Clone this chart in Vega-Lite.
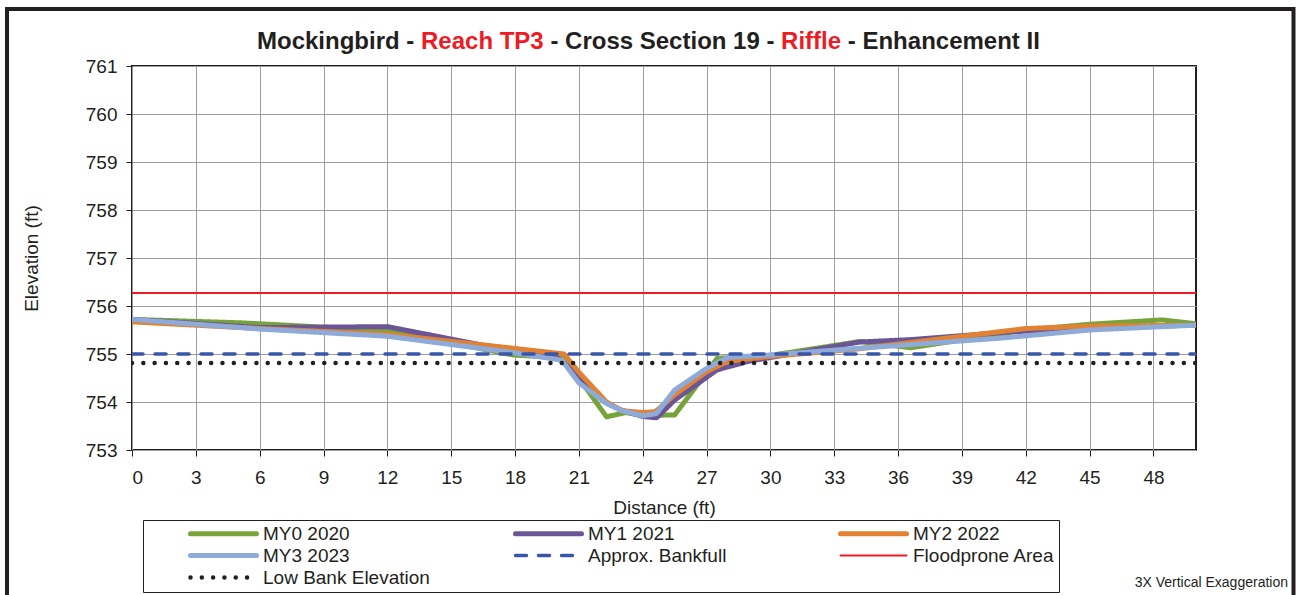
{
  "$schema": "https://vega.github.io/schema/vega-lite/v6.json",
  "autosize": "none",
  "width": 1064,
  "height": 384,
  "padding": {"left": 132, "top": 66, "right": 101, "bottom": 145},
  "background": "white",
  "config": {
    "font": "Liberation Sans",
    "view": {"stroke": "#231f20", "strokeWidth": 2},
    "legend": {
      "titleOrient": "left", "titlePadding": 41, "titleFontSize": 19,
      "orient": "none", "legendX": 11, "legendY": 454, "direction": "horizontal",
      "columns": 3, "gridAlign": "all", "columnPadding": 83, "rowPadding": 2,
      "clipHeight": 19, "symbolSize": 4356, "symbolType": "stroke",
      "labelFontSize": 19, "labelOffset": 4, "labelColor": "#231f20", "labelLimit": 300,
      "padding": 4, "strokeColor": "#231f20"
    }
  },
  "datasets": {
    "xs": [
      {"series": "MY0 2020", "dist": 0, "elev": 755.72},
      {"series": "MY0 2020", "dist": 5.1, "elev": 755.65},
      {"series": "MY0 2020", "dist": 12, "elev": 755.49},
      {"series": "MY0 2020", "dist": 17.9, "elev": 754.98},
      {"series": "MY0 2020", "dist": 20.2, "elev": 754.92},
      {"series": "MY0 2020", "dist": 21, "elev": 754.5},
      {"series": "MY0 2020", "dist": 22.3, "elev": 753.69},
      {"series": "MY0 2020", "dist": 23.2, "elev": 753.78},
      {"series": "MY0 2020", "dist": 24, "elev": 753.72},
      {"series": "MY0 2020", "dist": 25.5, "elev": 753.73},
      {"series": "MY0 2020", "dist": 27.5, "elev": 754.91},
      {"series": "MY0 2020", "dist": 30, "elev": 754.97},
      {"series": "MY0 2020", "dist": 34.2, "elev": 755.26},
      {"series": "MY0 2020", "dist": 36.6, "elev": 755.13},
      {"series": "MY0 2020", "dist": 42, "elev": 755.5},
      {"series": "MY0 2020", "dist": 45, "elev": 755.62},
      {"series": "MY0 2020", "dist": 48.4, "elev": 755.71},
      {"series": "MY0 2020", "dist": 50, "elev": 755.63},
      {"series": "MY1 2021", "dist": 0, "elev": 755.72},
      {"series": "MY1 2021", "dist": 6, "elev": 755.55},
      {"series": "MY1 2021", "dist": 12, "elev": 755.57},
      {"series": "MY1 2021", "dist": 18, "elev": 755.05},
      {"series": "MY1 2021", "dist": 20, "elev": 754.92},
      {"series": "MY1 2021", "dist": 20.5, "elev": 754.74},
      {"series": "MY1 2021", "dist": 21.2, "elev": 754.4},
      {"series": "MY1 2021", "dist": 22.2, "elev": 754.0},
      {"series": "MY1 2021", "dist": 23, "elev": 753.83},
      {"series": "MY1 2021", "dist": 24, "elev": 753.7},
      {"series": "MY1 2021", "dist": 24.65, "elev": 753.67},
      {"series": "MY1 2021", "dist": 25.5, "elev": 754.04},
      {"series": "MY1 2021", "dist": 27.5, "elev": 754.67},
      {"series": "MY1 2021", "dist": 29, "elev": 754.85},
      {"series": "MY1 2021", "dist": 34.2, "elev": 755.25},
      {"series": "MY1 2021", "dist": 36.6, "elev": 755.3},
      {"series": "MY1 2021", "dist": 41, "elev": 755.45},
      {"series": "MY1 2021", "dist": 45, "elev": 755.55},
      {"series": "MY1 2021", "dist": 50, "elev": 755.6},
      {"series": "MY2 2022", "dist": 0, "elev": 755.67},
      {"series": "MY2 2022", "dist": 6, "elev": 755.53},
      {"series": "MY2 2022", "dist": 12, "elev": 755.41},
      {"series": "MY2 2022", "dist": 17.9, "elev": 755.12},
      {"series": "MY2 2022", "dist": 20.3, "elev": 755.0},
      {"series": "MY2 2022", "dist": 21, "elev": 754.62},
      {"series": "MY2 2022", "dist": 22.3, "elev": 754.0},
      {"series": "MY2 2022", "dist": 23, "elev": 753.82},
      {"series": "MY2 2022", "dist": 24, "elev": 753.78},
      {"series": "MY2 2022", "dist": 24.6, "elev": 753.8},
      {"series": "MY2 2022", "dist": 25.5, "elev": 754.15},
      {"series": "MY2 2022", "dist": 27, "elev": 754.63},
      {"series": "MY2 2022", "dist": 28, "elev": 754.85},
      {"series": "MY2 2022", "dist": 30, "elev": 754.95},
      {"series": "MY2 2022", "dist": 34, "elev": 755.1},
      {"series": "MY2 2022", "dist": 42, "elev": 755.53},
      {"series": "MY2 2022", "dist": 45, "elev": 755.58},
      {"series": "MY2 2022", "dist": 50, "elev": 755.6},
      {"series": "MY3 2023", "dist": 0, "elev": 755.72},
      {"series": "MY3 2023", "dist": 6, "elev": 755.52},
      {"series": "MY3 2023", "dist": 12, "elev": 755.37},
      {"series": "MY3 2023", "dist": 17.9, "elev": 755.03},
      {"series": "MY3 2023", "dist": 20.2, "elev": 754.87},
      {"series": "MY3 2023", "dist": 21, "elev": 754.4},
      {"series": "MY3 2023", "dist": 22.3, "elev": 753.97},
      {"series": "MY3 2023", "dist": 23, "elev": 753.82},
      {"series": "MY3 2023", "dist": 24, "elev": 753.71},
      {"series": "MY3 2023", "dist": 24.65, "elev": 753.76},
      {"series": "MY3 2023", "dist": 25.5, "elev": 754.25},
      {"series": "MY3 2023", "dist": 27, "elev": 754.7},
      {"series": "MY3 2023", "dist": 28, "elev": 754.93},
      {"series": "MY3 2023", "dist": 30, "elev": 754.98},
      {"series": "MY3 2023", "dist": 34.2, "elev": 755.12},
      {"series": "MY3 2023", "dist": 40.8, "elev": 755.33},
      {"series": "MY3 2023", "dist": 45, "elev": 755.5},
      {"series": "MY3 2023", "dist": 48.4, "elev": 755.57},
      {"series": "MY3 2023", "dist": 50, "elev": 755.6},
      {"series": "Approx. Bankfull", "dist": 0, "elev": 755.0},
      {"series": "Approx. Bankfull", "dist": 50, "elev": 755.0},
      {"series": "Floodprone Area", "dist": 0, "elev": 756.27},
      {"series": "Floodprone Area", "dist": 50, "elev": 756.27},
      {"series": "Low Bank Elevation", "dist": 0, "elev": 754.81},
      {"series": "Low Bank Elevation", "dist": 50, "elev": 754.81}
    ]
  },
  "layer": [
    {
      "data": {"values": [{"frame": "outer"}]},
      "mark": {"type": "rect", "filled": false, "fill": null, "stroke": "#231f20", "strokeWidth": 4},
      "encoding": {
        "x": {"datum": -5.874, "type": "quantitative", "scale": {"domain": [0, 50], "nice": false, "zero": false}},
        "x2": {"datum": 54.582},
        "y": {"datum": 762.1875, "type": "quantitative", "scale": {"domain": [753, 761], "nice": false, "zero": false}},
        "y2": {"datum": 749.875}
      }
    },
    {
      "data": {"name": "xs"},
      "encoding": {
        "x": {
          "field": "dist", "type": "quantitative",
          "scale": {"domain": [0, 50], "nice": false, "zero": false},
          "axis": {
            "title": "Distance (ft)",
            "values": [0, 3, 6, 9, 12, 15, 18, 21, 24, 27, 30, 33, 36, 39, 42, 45, 48],
            "grid": true, "gridColor": "#9d9d9d", "gridWidth": 1,
            "domain": false, "ticks": true, "tickColor": "#231f20", "tickSize": 6,
            "labelFontSize": 19, "labelColor": "#231f20", "labelPadding": 12,
            "titleFontSize": 19, "titleFontWeight": "normal", "titleColor": "#231f20", "titlePadding": 11
          }
        },
        "y": {
          "field": "elev", "type": "quantitative",
          "scale": {"domain": [753, 761], "nice": false, "zero": false},
          "axis": {
            "title": "Elevation (ft)",
            "values": [753, 754, 755, 756, 757, 758, 759, 760, 761],
            "format": "d",
            "grid": true, "gridColor": "#9d9d9d", "gridWidth": 1,
            "domain": false, "ticks": true, "tickColor": "#231f20", "tickSize": 6,
            "labelFontSize": 19, "labelColor": "#231f20", "labelPadding": 9,
            "titleFontSize": 19, "titleFontWeight": "normal", "titleColor": "#231f20", "titlePadding": 44
          }
        },
        "color": {
          "field": "series", "type": "nominal",
          "scale": {
            "domain": ["MY0 2020", "MY1 2021", "MY2 2022", "MY3 2023", "Approx. Bankfull", "Floodprone Area", "Low Bank Elevation"],
            "range": ["#77a33b", "#6c5596", "#e08232", "#8eaad8", "#3a57a7", "#ed1c24", "#231f20"]
          },
          "legend": {
            "title": " ",
            "encode": {"symbols": {"update": {"strokeCap": {"value": "round"}}}}
          }
        },
        "strokeDash": {
          "field": "series", "type": "nominal",
          "scale": {
            "domain": ["MY0 2020", "MY1 2021", "MY2 2022", "MY3 2023", "Approx. Bankfull", "Floodprone Area", "Low Bank Elevation"],
            "range": [[1, 0], [1, 0], [1, 0], [1, 0], [11, 12], [1, 0], [0.01, 11.3]]
          },
          "legend": {"title": " "}
        },
        "strokeWidth": {
          "field": "series", "type": "nominal",
          "scale": {
            "type": "ordinal",
            "domain": ["MY0 2020", "MY1 2021", "MY2 2022", "MY3 2023", "Approx. Bankfull", "Floodprone Area", "Low Bank Elevation"],
            "range": [5, 5, 5, 5, 3.5, 2, 4.5]
          },
          "legend": {"title": " "}
        }
      },
      "layer": [
        {
          "transform": [{"filter": "indexof(['MY0 2020', 'MY1 2021', 'MY2 2022', 'MY3 2023'], datum.series) >= 0"}],
          "mark": {"type": "line", "strokeCap": "round", "strokeJoin": "round", "clip": true}
        },
        {
          "transform": [{"filter": "indexof(['MY0 2020', 'MY1 2021', 'MY2 2022', 'MY3 2023'], datum.series) < 0"}],
          "mark": {"type": "line", "strokeCap": "round", "strokeJoin": "round", "clip": true}
        }
      ]
    },
    {
      "data": {"values": [{"part": "Mockingbird -"}]},
      "mark": {"type": "text", "align": "left", "baseline": "alphabetic", "dy": -17, "fontSize": 24, "fontWeight": "bold", "color": "#231f20"},
      "encoding": {
        "x": {"datum": 5.874, "type": "quantitative"},
        "y": {"datum": 761, "type": "quantitative"},
        "text": {"field": "part"}
      }
    },
    {
      "data": {"values": [{"part": "Reach TP3"}]},
      "mark": {"type": "text", "align": "left", "baseline": "alphabetic", "dy": -17, "fontSize": 24, "fontWeight": "bold", "color": "#ed1c24"},
      "encoding": {
        "x": {"datum": 13.581, "type": "quantitative"},
        "y": {"datum": 761, "type": "quantitative"},
        "text": {"field": "part"}
      }
    },
    {
      "data": {"values": [{"part": "- Cross Section 19 -"}]},
      "mark": {"type": "text", "align": "left", "baseline": "alphabetic", "dy": -17, "fontSize": 24, "fontWeight": "bold", "color": "#231f20"},
      "encoding": {
        "x": {"datum": 19.662, "type": "quantitative"},
        "y": {"datum": 761, "type": "quantitative"},
        "text": {"field": "part"}
      }
    },
    {
      "data": {"values": [{"part": "Riffle"}]},
      "mark": {"type": "text", "align": "left", "baseline": "alphabetic", "dy": -17, "fontSize": 24, "fontWeight": "bold", "color": "#ed1c24"},
      "encoding": {
        "x": {"datum": 30.503, "type": "quantitative"},
        "y": {"datum": 761, "type": "quantitative"},
        "text": {"field": "part"}
      }
    },
    {
      "data": {"values": [{"part": "- Enhancement II"}]},
      "mark": {"type": "text", "align": "left", "baseline": "alphabetic", "dy": -17, "fontSize": 24, "fontWeight": "bold", "color": "#231f20"},
      "encoding": {
        "x": {"datum": 33.637, "type": "quantitative"},
        "y": {"datum": 761, "type": "quantitative"},
        "text": {"field": "part"}
      }
    },
    {
      "data": {"values": [{"note": "3X Vertical Exaggeration"}]},
      "mark": {"type": "text", "align": "right", "baseline": "alphabetic", "dx": 92, "dy": 137, "fontSize": 14, "color": "#231f20"},
      "encoding": {
        "x": {"datum": 50, "type": "quantitative"},
        "y": {"datum": 753, "type": "quantitative"},
        "text": {"field": "note"}
      }
    }
  ]
}
